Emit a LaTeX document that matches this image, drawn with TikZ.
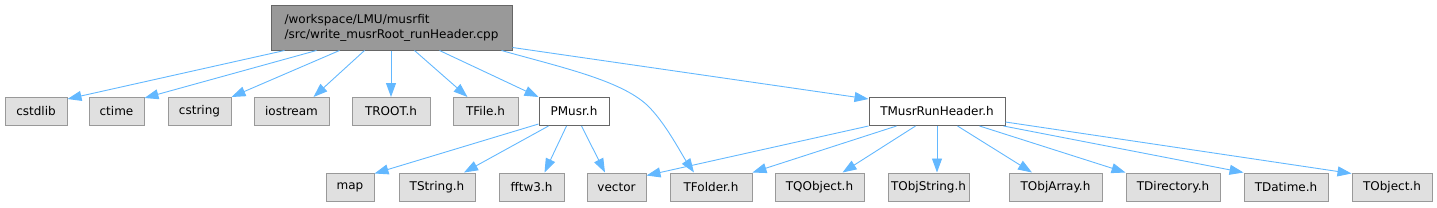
\documentclass[tikz,border=0pt]{standalone}
\usepackage{fontspec}
\setmainfont{DejaVu Sans}
\usetikzlibrary{arrows.meta}
\definecolor{edgeblue}{HTML}{63B8FF}
\definecolor{rootfill}{HTML}{999999}
\definecolor{darkborder}{HTML}{666666}
\definecolor{grayfill}{HTML}{E0E0E0}
\definecolor{grayborder}{HTML}{999999}
\begin{document}
\begin{tikzpicture}[x=1pt,y=-1pt,
  box/.style={rectangle, inner sep=0pt, minimum height=28pt, line width=1pt,
    font=\fontsize{12}{15}\selectfont},
  sysbox/.style={box, fill=grayfill, draw=grayborder},
  filebox/.style={box, fill=white, draw=darkborder},
  rootbox/.style={box, fill=rootfill, draw=darkborder, align=left,
    minimum width=241pt, minimum height=45pt},
  edge/.style={draw=edgeblue, line width=0.9pt,
    -{Triangle[length=14pt,width=10pt,fill=edgeblue]}}
]
\useasboundingbox (0,0) rectangle (1437,207);

% root
\node[rootbox] (root) at (391.5,27.5) {/workspace/LMU/musrfit\\/src/write\_musrRoot\_runHeader.cpp};

% row 2
\node[sysbox, minimum width=62pt] (cstdlib) at (36,111.5) {cstdlib};
\node[sysbox, minimum width=55pt] (ctime) at (116.5,111.5) {ctime};
\node[sysbox, minimum width=63pt] (cstring) at (199.5,111.5) {cstring};
\node[sysbox, minimum width=75pt] (iostream) at (291.5,111.5) {iostream};
\node[sysbox, minimum width=78pt] (TROOT) at (391,111.5) {TROOT.h};
\node[sysbox, minimum width=65pt] (TFile) at (485.5,111.5) {TFile.h};
\node[filebox, minimum width=70pt] (PMusr) at (574,111.5) {PMusr.h};
\node[filebox, minimum width=136pt] (TMusr) at (937,111.5) {TMusrRunHeader.h};

% row 3
\node[sysbox, minimum width=48pt] (map) at (350,187) {map};
\node[sysbox, minimum width=76pt] (TString) at (437,187) {TString.h};
\node[sysbox, minimum width=65pt] (fftw) at (531.5,187) {fftw3.h};
\node[sysbox, minimum width=59pt] (vector) at (616.5,187) {vector};
\node[sysbox, minimum width=82pt] (TFolder) at (711,187) {TFolder.h};
\node[sysbox, minimum width=89pt] (TQObject) at (819.5,187) {TQObject.h};
\node[sysbox, minimum width=81pt] (TObjString) at (928.5,187) {TObjString.h};
\node[sysbox, minimum width=93pt] (TObjArray) at (1055.5,187) {TObjArray.h};
\node[sysbox, minimum width=94pt] (TDirectory) at (1173,187) {TDirectory.h};
\node[sysbox, minimum width=84pt] (TDatime) at (1286,187) {TDatime.h};
\node[sysbox, minimum width=80pt] (TObject) at (1392,187) {TObject.h};

% root edges
\draw[edge] ([xshift=14pt]root.south west) -- ([yshift=-2pt]cstdlib.north east);
\draw[edge] ([xshift=46pt]root.south west) -- ([yshift=-1pt]ctime.north east);
\draw[edge] ([xshift=69pt]root.south west) -- (cstring.north east);
\draw[edge] ([xshift=94pt]root.south west) -- ([xshift=-16pt]iostream.north east);
\draw[edge] (root.south -| TROOT.north) -- (TROOT.north);
\draw[edge] ([xshift=144pt]root.south west) -- ([xshift=-18pt]TFile.north);
\draw[edge] ([xshift=169pt]root.south west) -- (PMusr.north west);
\draw[edge] ([xshift=231pt]root.south west) .. controls (560,67) and (620,80) .. (647,105)
   .. controls (665,122) and (682,155) .. ([xshift=-17pt]TFolder.north);
\draw[edge] ([yshift=3pt]root.south east) -- ([yshift=-2pt]TMusr.north west);

% PMusr edges
\draw[edge] ([yshift=2pt]PMusr.south west) -- ([yshift=-1pt]map.north east);
\draw[edge] ([xshift=10pt]PMusr.south west) -- ([xshift=27pt]TString.north);
\draw[edge] ([xshift=28pt]PMusr.south west) -- ([xshift=13pt]fftw.north);
\draw[edge] ([xshift=43pt]PMusr.south west) -- ([xshift=-11.5pt]vector.north);

% TMusrRunHeader edges
\draw[edge] (TMusr.south west) -- ([yshift=-3pt]vector.north east);
\draw[edge] ([xshift=28pt]TMusr.south west) -- (TFolder.north east);
\draw[edge] ([xshift=47pt]TMusr.south west) -- ([xshift=23pt]TQObject.north);
\draw[edge] (TMusr.south) -- (TMusr.south |- TObjString.north);
\draw[edge] ([xshift=89pt]TMusr.south west) -- ([xshift=-23.5pt]TObjArray.north);
\draw[edge] ([xshift=111pt]TMusr.south west) -- (TDirectory.north west);
\draw[edge] ([xshift=-2pt]TMusr.south east) -- (TDatime.north west);
\draw[edge] ([yshift=4pt]TMusr.south east) -- ([yshift=-1pt]TObject.north west);
\end{tikzpicture}
\end{document}
